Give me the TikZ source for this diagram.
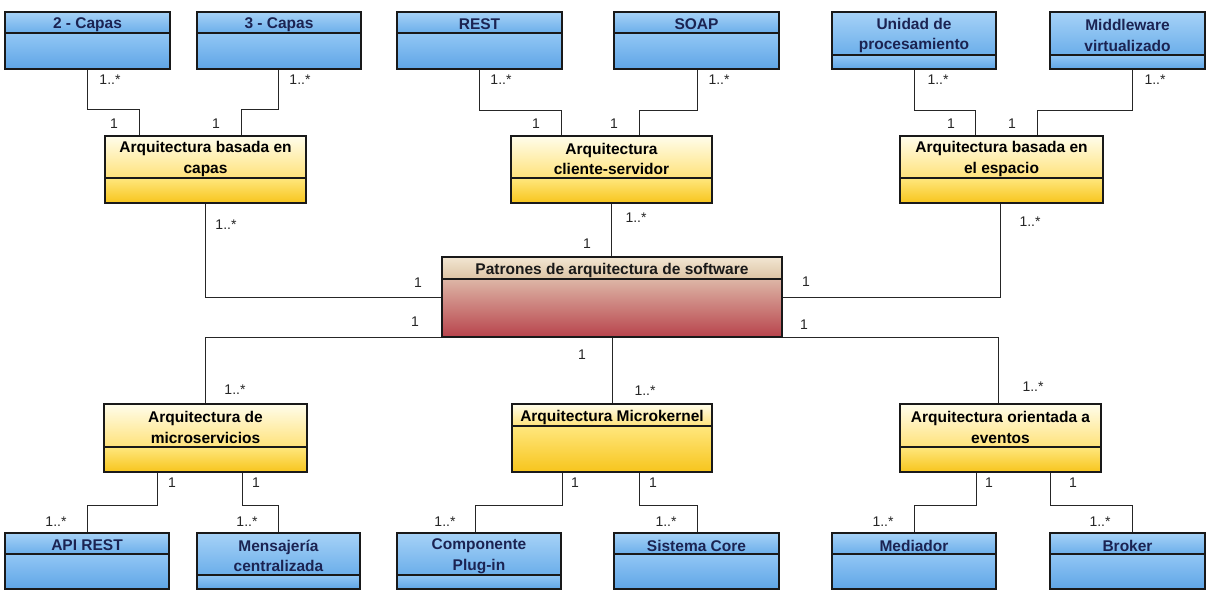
\documentclass[tikz,border=0pt]{standalone}
\usepackage{fontspec}
\setmainfont{Liberation Sans}
\usetikzlibrary{calc,fit}
\definecolor{blueHa}{HTML}{A6D2F7}
\definecolor{blueHb}{HTML}{6BAEEA}
\definecolor{blueBa}{HTML}{92C7F5}
\definecolor{blueBb}{HTML}{5FA5E6}
\definecolor{yelHa}{HTML}{FFFDEB}
\definecolor{yelHb}{HTML}{FFE27A}
\definecolor{yelBa}{HTML}{FFE77E}
\definecolor{yelBb}{HTML}{F7C51C}
\definecolor{redHa}{HTML}{F2E6D2}
\definecolor{redHb}{HTML}{DCC3A4}
\definecolor{redBa}{HTML}{DDB6A6}
\definecolor{redBb}{HTML}{B8434C}
\definecolor{navytext}{HTML}{1B2352}
\tikzset{
  boxframe/.style={draw=black!90, line width=1.2pt, inner sep=0pt},
  boxline/.style={draw=black!90, line width=1.1pt},
  titletext/.style={font=\fontsize{15.5}{20.5}\selectfont\bfseries, align=center, inner sep=0pt, yshift=-2pt},
  blueTxt/.style={titletext, text=navytext},
  yelTxt/.style={titletext, text=black},
  redTxt/.style={titletext, text=black!90},
  conn/.style={draw=black!85, line width=0.9pt},
  mult/.style={font=\fontsize{14}{16}\selectfont, text=black!85, inner sep=0pt},
}
% name, x1, y1, x2, y2, ydiv, palette, text
\newcommand\umlcls[8]{%
  \shade[top color=#7Ha,bottom color=#7Hb] (#2,#3) rectangle (#4,#6);
  \shade[top color=#7Ba,bottom color=#7Bb] (#2,#6) rectangle (#4,#5);
  \draw[boxline] (#2,#6) -- (#4,#6);
  \node[boxframe, fit={(#2,#3)(#4,#5)}] (#1) {};
  \node[#7Txt] (#1-title) at ($(#2,#3)!0.5!(#4,#6)$) {#8};
}
\begin{document}
\begin{tikzpicture}[x=1pt,y=-1pt]
\useasboundingbox[fill=white] (0,0) rectangle (1207,590);

% top row
\umlcls{c2capas}{5}{12}{170}{69}{33}{blue}{2 - Capas}
\umlcls{c3capas}{197}{12}{361}{69}{33}{blue}{3 - Capas}
\umlcls{rest}{397}{12}{562}{69}{33}{blue}{REST}
\umlcls{soap}{614}{12}{779}{69}{33}{blue}{SOAP}
\umlcls{unidad}{832}{12}{996}{69}{55}{blue}{Unidad de\\procesamiento}
\umlcls{middleware}{1050}{12}{1205}{69}{55}{blue}{Middleware\\virtualizado}

% upper yellow
\umlcls{capas}{105}{136}{306}{203}{178}{yel}{Arquitectura basada en\\capas}
\umlcls{clisrv}{511}{136}{712}{203}{178}{yel}{Arquitectura\\cliente-servidor}
\umlcls{espacio}{900}{136}{1103}{203}{178}{yel}{Arquitectura basada en\\el espacio}

% centre
\umlcls{patrones}{442}{257}{782}{337}{279}{red}{Patrones de arquitectura de software}

% lower yellow
\umlcls{micro}{104}{404}{307}{472}{447}{yel}{Arquitectura de\\microservicios}
\umlcls{kernel}{512}{404}{712}{472}{426}{yel}{Arquitectura Microkernel}
\umlcls{eventos}{900}{404}{1101}{472}{447}{yel}{Arquitectura orientada a\\eventos}

% bottom row
\umlcls{apirest}{5}{533}{169}{589}{554}{blue}{API REST}
\umlcls{mensajeria}{197}{533}{360}{589}{575}{blue}{Mensajería\\centralizada}
\umlcls{plugin}{397}{533}{561}{589}{575}{blue}{Componente\\Plug-in}
\umlcls{core}{614}{533}{779}{589}{554}{blue}{Sistema Core}
\umlcls{mediador}{832}{533}{996}{589}{554}{blue}{Mediador}
\umlcls{broker}{1050}{533}{1205}{589}{554}{blue}{Broker}

% connectors top
\draw[conn] (87,0 |- c2capas.south) |- (139,109) -- (139,0 |- capas.north);
\draw[conn] (278,0 |- c3capas.south) |- (241,109) -- (241,0 |- capas.north);
\draw[conn] (479,0 |- rest.south) |- (561,110) -- (561,0 |- clisrv.north);
\draw[conn] (697,0 |- soap.south) |- (639,110) -- (639,0 |- clisrv.north);
\draw[conn] (914,0 |- unidad.south) |- (975,110) -- (975,0 |- espacio.north);
\draw[conn] (1132,0 |- middleware.south) |- (1037,110) -- (1037,0 |- espacio.north);

% connectors centre
\draw[conn] (205,0 |- capas.south) |- (patrones.west);
\draw[conn] (clisrv.south) -- (clisrv.south |- patrones.north);
\draw[conn] (1000,0 |- espacio.south) |- (patrones.east);
\draw[conn] (patrones.south west) -| (205,0 |- micro.north);
\draw[conn] (patrones.south) -- (patrones.south |- kernel.north);
\draw[conn] (patrones.south east) -| (998,0 |- eventos.north);

% connectors bottom
\draw[conn] (157,0 |- micro.south) |- (87,505) -- (87,0 |- apirest.north);
\draw[conn] (242,0 |- micro.south) |- (278,505) -- (278,0 |- mensajeria.north);
\draw[conn] (562,0 |- kernel.south) |- (475,505) -- (475,0 |- plugin.north);
\draw[conn] (639,0 |- kernel.south) |- (697,505) -- (697,0 |- core.north);
\draw[conn] (976,0 |- eventos.south) |- (914,505) -- (914,0 |- mediador.north);
\draw[conn] (1050,0 |- eventos.south) |- (1132,505) -- (1132,0 |- broker.north);

% multiplicities top
\node[mult] (m1) at (110,80) {1..*};
\node[mult] (m2) at (114,124) {1};
\node[mult] (m3) at (300,80) {1..*};
\node[mult] (m4) at (216,124) {1};
\node[mult] (m5) at (501,80) {1..*};
\node[mult] (m6) at (536,124) {1};
\node[mult] (m7) at (719,80) {1..*};
\node[mult] (m8) at (614,124) {1};
\node[mult] (m9) at (938,80) {1..*};
\node[mult] (m10) at (951,124) {1};
\node[mult] (m11) at (1155,80) {1..*};
\node[mult] (m12) at (1012,124) {1};

% multiplicities centre
\node[mult] (m13) at (226,225) {1..*};
\node[mult] (m14) at (636,218) {1..*};
\node[mult] (m15) at (587,244) {1};
\node[mult] (m16) at (1030,222) {1..*};
\node[mult] (m17) at (418,283) {1};
\node[mult] (m18) at (806,282) {1};
\node[mult] (m19) at (415,322) {1};
\node[mult] (m20) at (804,325) {1};
\node[mult] (m21) at (582,355) {1};
\node[mult] (m22) at (235,390) {1..*};
\node[mult] (m23) at (645,391) {1..*};
\node[mult] (m24) at (1033,387) {1..*};

% multiplicities bottom
\node[mult] (m25) at (172,483) {1};
\node[mult] (m26) at (256,483) {1};
\node[mult] (m27) at (56,522) {1..*};
\node[mult] (m28) at (247,522) {1..*};
\node[mult] (m29) at (575,483) {1};
\node[mult] (m30) at (653,483) {1};
\node[mult] (m31) at (445,522) {1..*};
\node[mult] (m32) at (666,522) {1..*};
\node[mult] (m33) at (989,483) {1};
\node[mult] (m34) at (1073,483) {1};
\node[mult] (m35) at (883,522) {1..*};
\node[mult] (m36) at (1100,522) {1..*};
\end{tikzpicture}
\end{document}
